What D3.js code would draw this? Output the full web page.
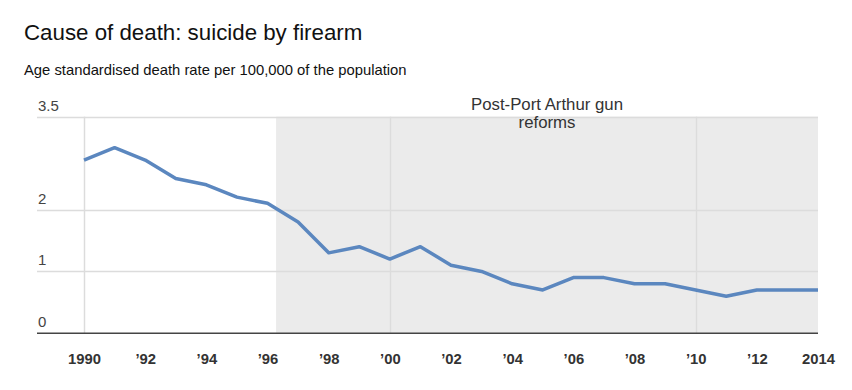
<!DOCTYPE html>
<html>
<head>
<meta charset="utf-8">
<script src="https://cdn.jsdelivr.net/npm/d3@7"></script>
<style>
  body { margin: 0; background: #fff; }
  svg { display: block; font-family: Arial, "Liberation Sans", sans-serif; }
</style>
</head>
<body>
<svg id="chart" width="852" height="390"></svg>
<script>
const years = [1990,1991,1992,1993,1994,1995,1996,1997,1998,1999,2000,2001,2002,2003,2004,2005,2006,2007,2008,2009,2010,2011,2012,2013,2014];
const rates = [2.8,3.0,2.8,2.5,2.4,2.2,2.1,1.8,1.3,1.4,1.2,1.4,1.1,1.0,0.8,0.7,0.9,0.9,0.8,0.8,0.7,0.6,0.7,0.7,0.7];
const xTicks = [1990,1992,1994,1996,1998,2000,2002,2004,2006,2008,2010,2012,2014];
const xTickLabels = ["1990","\u201992","\u201994","\u201996","\u201998","\u201900","\u201902","\u201904","\u201906","\u201908","\u201910","\u201912","2014"];
const yTicks = [0,1,2,3.5];
const yTickLabels = ["0","1","2","3.5"];
const xGridYears = [1990,2000,2010];
const shadeStart = 1996.28;
const shadeEnd = 2014;
const annotationLines = ["Post-Port Arthur gun","reforms"];
const title = "Cause of death: suicide by firearm";
const subtitle = "Age standardised death rate per 100,000 of the population";

const svg = d3.select("#chart");
const x = d3.scaleLinear().domain([1990,2014]).range([84,818]);
const y = d3.scaleLinear().domain([0,3.5]).range([333.3,116.7]);
const plotLeft = 37, plotRight = 818;

// title
svg.append("text").attr("x",24).attr("y",40).attr("font-size",22.3).attr("fill","#111").text(title);
svg.append("text").attr("x",24).attr("y",75).attr("font-size",14.8).attr("fill","#111").text(subtitle);

// shaded region
svg.append("rect")
  .attr("x", x(shadeStart)).attr("y", y(3.5))
  .attr("width", x(shadeEnd) - x(shadeStart))
  .attr("height", y(0) - y(3.5))
  .attr("fill", "#ebebeb");

// horizontal gridlines
svg.append("g").selectAll("line").data(yTicks.filter(d => d !== 0)).join("line")
  .attr("x1", plotLeft).attr("x2", plotRight)
  .attr("y1", d => Math.round(y(d)) + 0.5).attr("y2", d => Math.round(y(d)) + 0.5)
  .attr("stroke", "#dcdcdc").attr("stroke-width", 1.5);

// vertical gridlines
svg.append("g").selectAll("line").data(xGridYears).join("line")
  .attr("x1", d => Math.round(x(d)) + 0.5).attr("x2", d => Math.round(x(d)) + 0.5)
  .attr("y1", y(3.5)).attr("y2", y(0))
  .attr("stroke", "#dcdcdc").attr("stroke-width", 1.5);

// y tick labels
svg.append("g").selectAll("text").data(yTicks).join("text")
  .attr("x", 38).attr("y", d => y(d) - 6)
  .attr("font-size", 15).attr("fill", "#444")
  .text((d,i) => yTickLabels[i]);

// baseline
svg.append("line").attr("x1", plotLeft).attr("x2", plotRight)
  .attr("y1", y(0)).attr("y2", y(0)).attr("stroke", "#444").attr("stroke-width", 1.6);

// x axis labels
const xAxis = d3.axisBottom(x).tickValues(xTicks).tickSize(0)
  .tickFormat((d,i) => xTickLabels[i]);
const gx = svg.append("g").attr("transform", `translate(0,${y(0)})`).call(xAxis);
gx.select(".domain").remove();
gx.selectAll("text").attr("font-size", 14.8).attr("font-weight", "bold")
  .attr("fill", "#333").attr("font-family", "Arial, 'Liberation Sans', sans-serif")
  .attr("dy", null).attr("y", 31);

// annotation
const annX = (x(shadeStart) + x(shadeEnd)) / 2;
svg.append("g").selectAll("text").data(annotationLines).join("text")
  .attr("x", annX).attr("y", (d,i) => 110 + i*18)
  .attr("text-anchor", "middle").attr("font-size", 16.8).attr("fill", "#333")
  .text(d => d);

// line
const line = d3.line().x((d,i) => x(years[i])).y(d => y(d));
svg.append("path").datum(rates)
  .attr("d", line).attr("fill", "none")
  .attr("stroke", "#5b87bf").attr("stroke-width", 3.5)
  .attr("stroke-linejoin", "round");
</script>
</body>
</html>
